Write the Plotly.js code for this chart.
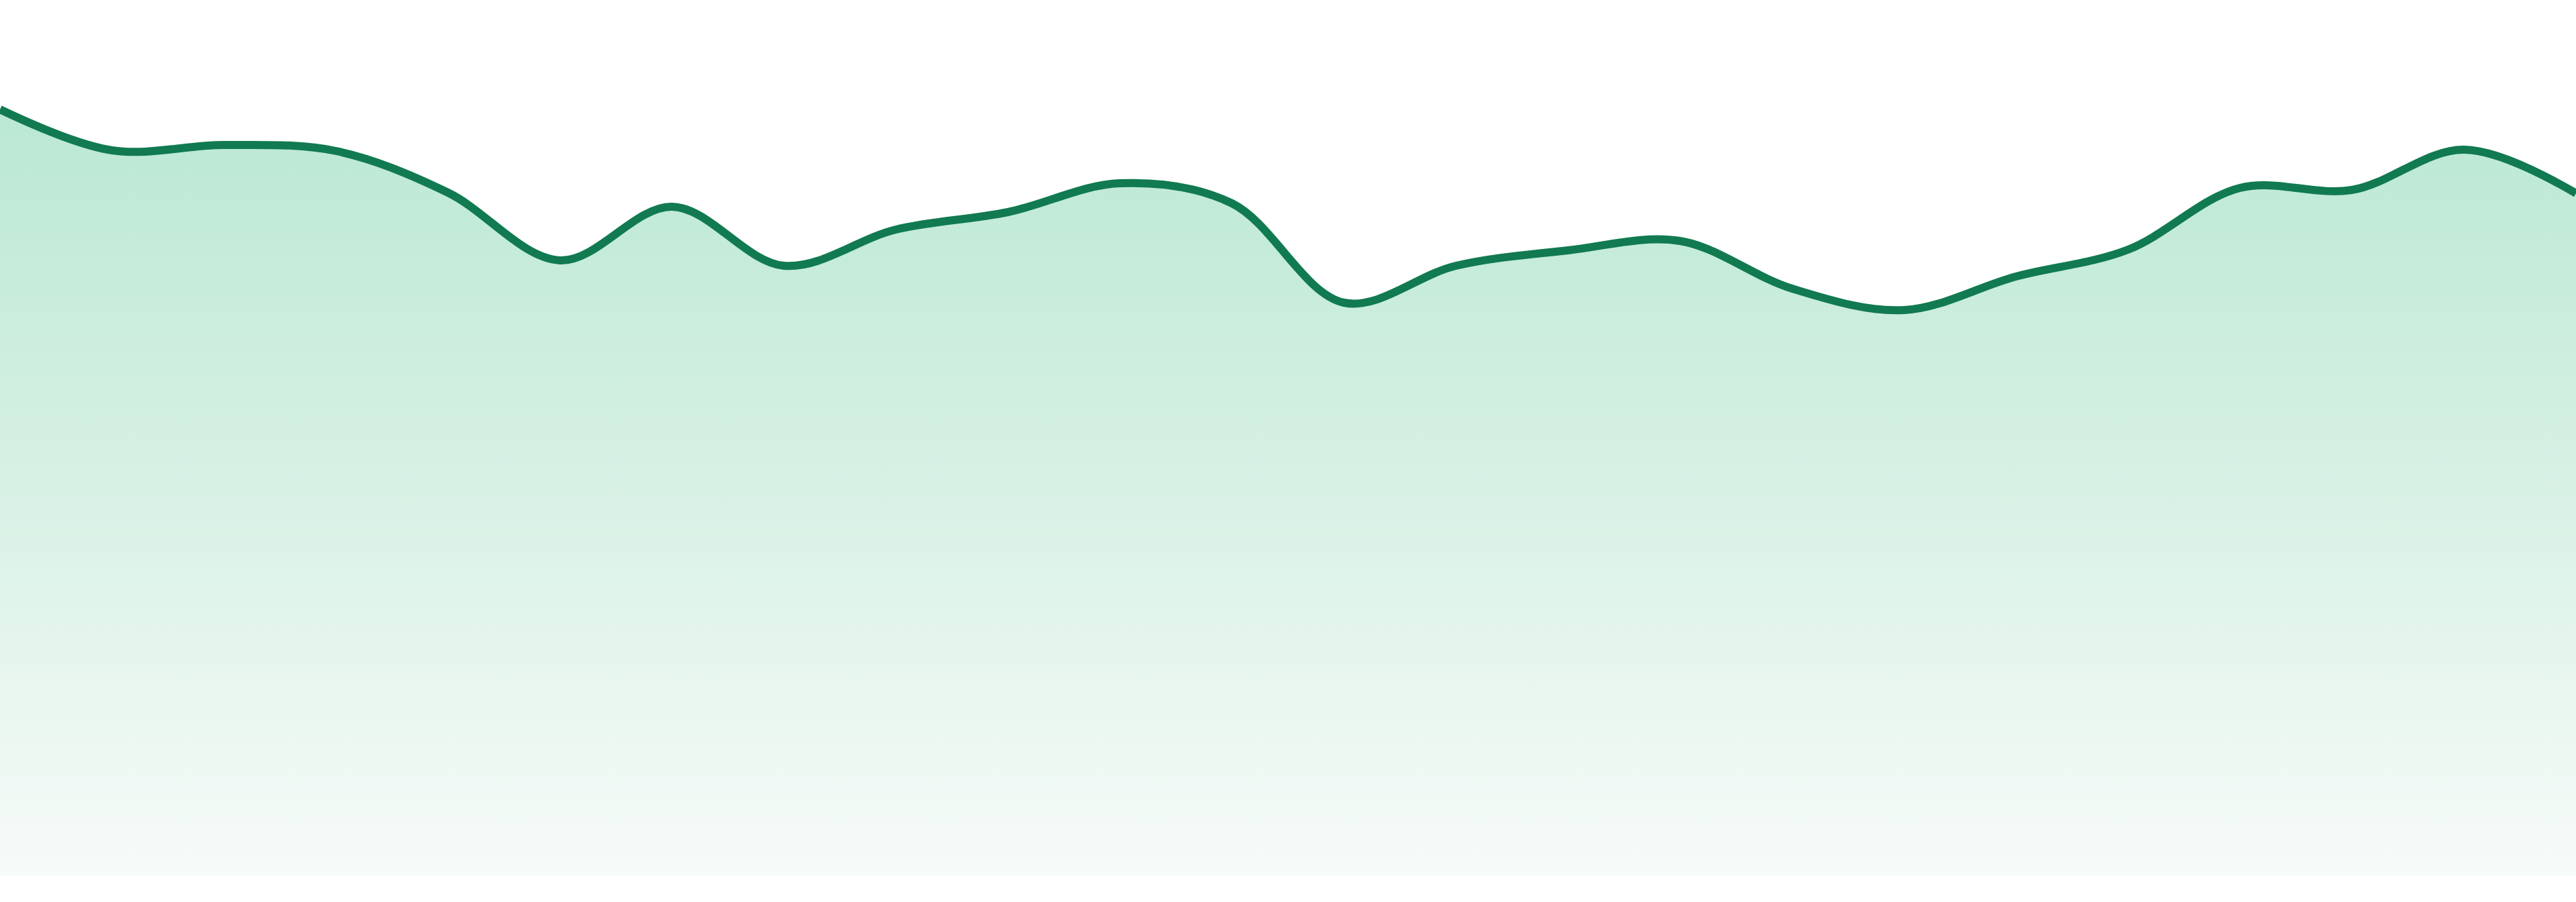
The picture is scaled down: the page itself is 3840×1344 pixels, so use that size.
<!DOCTYPE html>
<html>
<head>
<meta charset="utf-8">
<script src="https://cdn.plot.ly/plotly-3.0.1.min.js"></script>
<style>
  html, body { margin: 0; padding: 0; background: #ffffff; }
  #chart { width: 3840px; height: 1344px; }
</style>
</head>
<body>
<div id="chart"></div>
<script>
// Data
const positions = [0, 1, 2, 3, 4, 5, 6, 7, 8, 9, 10, 11, 12, 13, 14, 15, 16, 17, 18, 19, 20, 21, 22, 23];
const values = [114.2, 108.1, 108.9, 108.0, 101.8, 91.7, 99.7, 90.9, 96.3, 98.9, 103.2, 100.2,
                85.4, 90.9, 93.2, 94.6, 87.5, 84.3, 89.3, 93.3, 102.5, 102.2, 108.2, 101.7];

const lineColor = '#117A50';
const gradientColors = [[0, '#F7FBF9'], [0.5, '#D8F1E5'], [1, '#BAE8D3']];

const trace = {
  type: 'scatter',
  mode: 'lines',
  x: positions,
  y: values,
  line: { color: lineColor, width: 12, shape: 'spline', smoothing: 1 },
  fill: 'tozeroy',
  fillgradient: {
    type: 'vertical',
    start: 0,
    stop: Math.max(...values),
    colorscale: gradientColors
  },
  hoverinfo: 'skip'
};

const layout = {
  width: 3840,
  height: 1344,
  margin: { l: 0, r: 0, t: 0, b: 39, pad: 0 },
  paper_bgcolor: '#ffffff',
  plot_bgcolor: '#ffffff',
  showlegend: false,
  xaxis: { range: [0, positions.length - 1], visible: false, showgrid: false, zeroline: false, fixedrange: true },
  yaxis: { range: [0, 130.5], visible: false, showgrid: false, zeroline: false, fixedrange: true }
};

Plotly.newPlot('chart', [trace], layout, { displayModeBar: false, staticPlot: true });
</script>
</body>
</html>
